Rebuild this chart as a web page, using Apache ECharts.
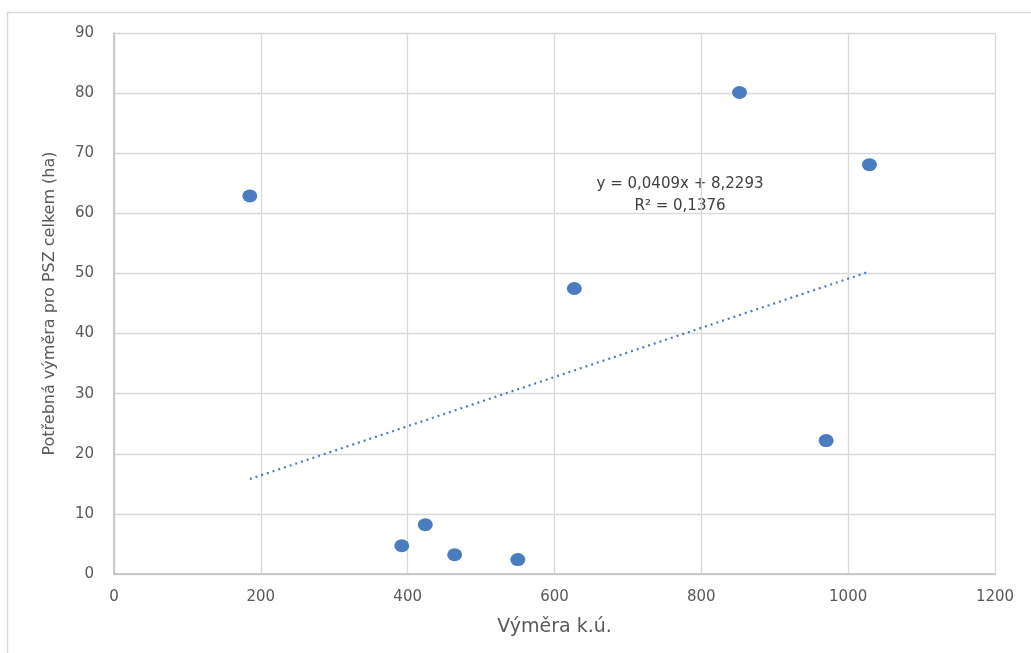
<!DOCTYPE html>
<html>
<head>
<meta charset="utf-8">
<script src="https://cdn.jsdelivr.net/npm/echarts@6/dist/echarts.min.js"></script>
<style>
  html, body { margin: 0; padding: 0; background: #fff; }
  #chart { width: 1031px; height: 653px; }
</style>
</head>
<body>
<div id="chart"></div>
<script>
// Výměra katastrálního území vs. potřebná výměra pro PSZ
const vymeraKU = [185, 392, 424, 464, 550, 627, 852, 970, 1029];
const potrebnaVymera = [62.9, 4.7, 8.2, 3.2, 2.4, 47.5, 80.1, 22.2, 68.1];

// Lineární trend: y = 0,0409x + 8,2293
const trendSlope = 0.0409;
const trendIntercept = 8.2293;
const trendLabel = ['y = 0,0409x + 8,2293', 'R² = 0,1376'];

const xMin = Math.min(...vymeraKU);
const xMax = Math.max(...vymeraKU);
const trendData = [
  [xMin, trendIntercept + trendSlope * xMin],
  [xMax, trendIntercept + trendSlope * xMax]
];

const blue = '#4a7cc0';
const textGray = '#595959';
const gridGray = '#d9d9d9';
const font = '"DejaVu Sans", "Open Sans", sans-serif';

const chart = echarts.init(document.getElementById('chart'), null, { renderer: 'canvas' });

chart.setOption({
  animation: false,
  backgroundColor: '#fff',
  grid: { left: 114, right: 36, top: 33, bottom: 79, containLabel: false },
  graphic: [
    {
      type: 'rect',
      shape: { x: 7.5, y: 12.5, width: 1100, height: 700 },
      style: { fill: 'none', stroke: '#d9d9d9', lineWidth: 1.5 },
      silent: true
    },
    {
      type: 'text',
      x: 680,
      y: 173,
      style: {
        text: trendLabel.join('\n'),
        textAlign: 'center',
        fill: '#404040',
        font: '15px ' + font,
        lineHeight: 22
      },
      silent: true
    }
  ],
  xAxis: {
    type: 'value',
    min: 0, max: 1200, interval: 200,
    name: 'Výměra k.ú.',
    nameLocation: 'middle',
    nameGap: 44,
    nameTextStyle: { color: textGray, fontSize: 19, fontFamily: font },
    axisLine: { show: true, lineStyle: { color: '#bfbfbf', width: 1.5 } },
    axisTick: { show: false },
    axisLabel: { color: textGray, fontSize: 15, margin: 16, fontFamily: font, formatter: v => String(v) },
    splitLine: { show: true, lineStyle: { color: gridGray, width: 1.3 } }
  },
  yAxis: {
    type: 'value',
    min: 0, max: 90, interval: 10,
    name: 'Potřebná výměra pro PSZ celkem (ha)',
    nameLocation: 'middle',
    nameGap: 56,
    nameRotate: 90,
    nameTextStyle: { color: textGray, fontSize: 16, fontFamily: font },
    axisLine: { show: true, lineStyle: { color: '#bfbfbf', width: 1.5 } },
    axisTick: { show: false },
    axisLabel: { color: textGray, fontSize: 15, margin: 20, fontFamily: font, formatter: v => String(v) },
    splitLine: { show: true, lineStyle: { color: gridGray, width: 1.3 } }
  },
  series: [
    {
      type: 'line',
      data: trendData,
      showSymbol: false,
      symbol: 'none',
      lineStyle: { color: blue, width: 2.2, type: [2, 4] },
      z: 2
    },
    {
      type: 'scatter',
      data: vymeraKU.map((x, i) => [x, potrebnaVymera[i]]),
      symbol: 'circle',
      symbolSize: [15, 13],
      itemStyle: { color: blue, opacity: 1 },
      z: 3
    }
  ]
});
</script>
</body>
</html>
